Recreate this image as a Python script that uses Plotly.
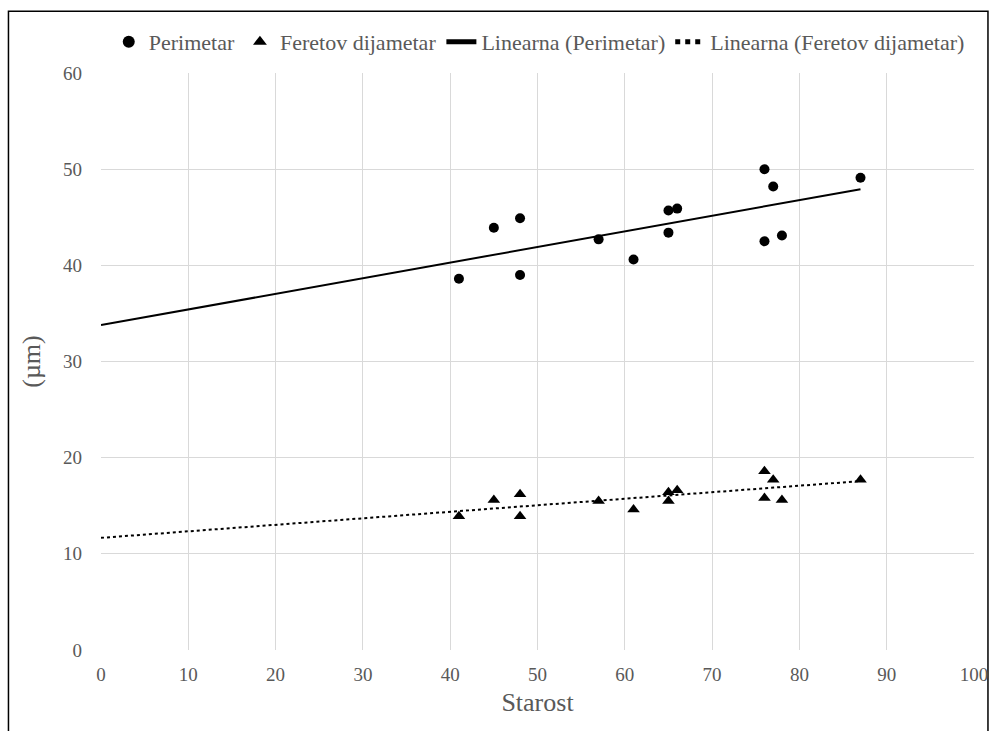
import numpy as np
import plotly.graph_objects as go

# Ages (Starost) and measurements in µm
starost = [41, 45, 48, 48, 57, 61, 65, 66, 65, 76, 77, 76, 78, 87]
perimetar = [38.6, 43.9, 44.9, 39.0, 42.7, 40.6, 45.7, 45.9, 43.4, 50.0, 48.2, 42.5, 43.1, 49.1]
feretov = [13.9, 15.6, 16.2, 13.9, 15.5, 14.6, 16.4, 16.6, 15.5, 18.6, 17.7, 15.8, 15.6, 17.7]

x_ticks = [0, 10, 20, 30, 40, 50, 60, 70, 80, 90, 100]
y_ticks = [0, 10, 20, 30, 40, 50, 60]

FONT = "Liberation Serif, Times New Roman, serif"
GREY = "#595959"

# Least-squares trend lines, drawn from 0 to the largest age
x_trend = [0, max(starost)]
kp = np.polyfit(starost, perimetar, 1)
kf = np.polyfit(starost, feretov, 1)
per_trend = [np.polyval(kp, v) for v in x_trend]
fer_trend = [np.polyval(kf, v) for v in x_trend]

fig = go.Figure()
fig.add_trace(go.Scatter(x=starost, y=perimetar, mode="markers", name="Perimetar",
                         marker=dict(symbol="circle", size=10, color="black")))
fig.add_trace(go.Scatter(x=starost, y=feretov, mode="markers", name="Feretov dijametar",
                         marker=dict(symbol="triangle-up", size=11, color="black")))
fig.add_trace(go.Scatter(x=x_trend, y=per_trend, mode="lines", name="Linearna (Perimetar)",
                         line=dict(color="black", width=2)))
fig.add_trace(go.Scatter(x=x_trend, y=fer_trend, mode="lines", name="Linearna (Feretov dijametar)",
                         line=dict(color="black", width=2, dash="dot")))

# Outer chart frame
fig.add_shape(type="rect", xref="paper", yref="paper",
              x0=-0.106, x1=1.016, y0=-0.2, y1=1.107,
              line=dict(color="black", width=1.5), fillcolor="rgba(0,0,0,0)", layer="below")

fig.update_layout(
    width=1000, height=731,
    margin=dict(l=101, r=21, t=73, b=80.5),
    paper_bgcolor="white", plot_bgcolor="white",
    font=dict(family=FONT, color=GREY, size=19),
    showlegend=True,
    legend=dict(orientation="h", x=0.502, xanchor="center", y=1.054, yanchor="middle",
                font=dict(family=FONT, size=22, color=GREY),
                itemsizing="constant", tracegroupgap=0,
                bgcolor="rgba(0,0,0,0)"),
    xaxis=dict(range=[0, 100], tickvals=x_ticks, showgrid=True, gridcolor="#d9d9d9",
               gridwidth=1, zeroline=False, showline=False, ticks="",
               ticklabelstandoff=11,
               tickfont=dict(family=FONT, size=19, color=GREY),
               title=dict(text="Starost", font=dict(family=FONT, size=26, color=GREY), standoff=8)),
    yaxis=dict(range=[0, 60], tickvals=y_ticks, showgrid=True, gridcolor="#d9d9d9",
               gridwidth=1, zeroline=False, showline=False, ticks="",
               ticklabelstandoff=18,
               tickfont=dict(family=FONT, size=19, color=GREY),
               title=dict(text="(µm)", font=dict(family=FONT, size=26, color=GREY), standoff=14)),
)

fig.write_html("out.html")
